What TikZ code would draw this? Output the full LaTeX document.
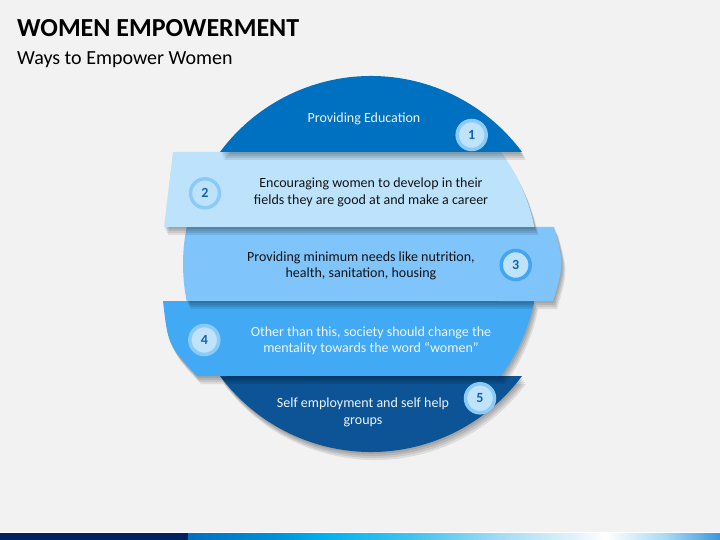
\documentclass[tikz,border=0pt]{standalone}
\usepackage{fontspec}
\setmainfont{Carlito}
\definecolor{bg}{RGB}{242,242,242}
\definecolor{bandA}{RGB}{0,112,192}
\definecolor{bandB}{RGB}{189,227,252}
\definecolor{bandC}{RGB}{127,196,250}
\definecolor{bandD}{RGB}{66,170,245}
\definecolor{bandE}{RGB}{12,84,150}
\definecolor{numblue}{RGB}{16,98,178}
\definecolor{ringlight}{RGB}{140,202,248}
\definecolor{ringdark}{RGB}{66,165,245}
\definecolor{badgein}{RGB}{192,227,252}
\definecolor{navy}{RGB}{0,32,96}
\definecolor{lighttext}{RGB}{238,244,250}
\definecolor{darktext}{RGB}{20,20,20}
\definecolor{barA}{RGB}{0,112,192}
\definecolor{barB}{RGB}{0,144,216}
\definecolor{barC}{RGB}{0,176,240}
\definecolor{barD}{RGB}{64,196,240}
\definecolor{barE}{RGB}{168,221,245}
\definecolor{barF}{RGB}{224,243,251}
\definecolor{barG}{RGB}{168,216,245}
\definecolor{barH}{RGB}{58,152,220}
\def\pathE{(522,376) arc[start angle=36.56,end angle=143.44,radius=188] -- cycle}
\def\pathD{(163,301) -- (534.3,301) arc[start angle=11.35,end angle=36.56,radius=188] -- (197,376) .. controls (168,345) .. (163,301) -- cycle}
\def\pathC{(554,227) -- (186.7,227) arc[start angle=191.35,end angle=168.65,radius=188] -- (553,301) .. controls (564,264) .. (554,227) -- cycle}
\def\pathB{(173,152) -- (501,152) arc[start angle=-36.56,end angle=-11.35,radius=188] -- (164,227) -- cycle}
\def\pathA{(220,152) arc[start angle=-143.44,end angle=-36.56,radius=188] -- cycle}
\begin{document}
\begin{tikzpicture}[x=1pt,y=-1pt,
 shadowcopy/.style={fill=black,fill opacity=0.09},
 badge/.style={circle,minimum size=29pt,inner sep=0pt,line width=3.5pt,font=\bfseries\fontsize{14}{14}\selectfont,text=numblue},
 bandtext/.style={align=center,font=\fontsize{14}{16.5}\selectfont},
]
\useasboundingbox (0,0) rectangle (720,540);
\fill[bg] (0,0) rectangle (720,540);

% bands (bottom to top), each with a soft drop shadow
\foreach \s in {1,2,3,4}{\path[shadowcopy,shift={(\s,2*\s)}] \pathE;}
\path[fill=bandE] \pathE;
\foreach \s in {1,2,3,4}{\path[shadowcopy,shift={(\s,2*\s)}] \pathD;}
\path[fill=bandD] \pathD;
\foreach \s in {1,2,3,4}{\path[shadowcopy,shift={(\s,2*\s)}] \pathC;}
\path[fill=bandC] \pathC;
\foreach \s in {1,2,3,4}{\path[shadowcopy,shift={(\s,2*\s)}] \pathB;}
\path[fill=bandB] \pathB;
\foreach \s in {1,2,3,4}{\path[shadowcopy,shift={(\s,2*\s)}] \pathA;}
\path[fill=bandA] \pathA;

% texts
\node[bandtext,text=lighttext] (t1) at (364,119) {Providing Education};
\node[bandtext,text=darktext] (t2) at (371,192.5) {Encouraging women to develop in their\\fields they are good at and make a career};
\node[bandtext,text=darktext] (t3) at (361,266) {Providing minimum needs like nutrition,\\health, sanitation, housing};
\node[bandtext,text=lighttext] (t4) at (371,341) {Other than this, society should change the\\mentality towards the word “women”};
\node[bandtext,text=lighttext] (t5) at (363,412.5) {Self employment and self help\\groups};

% badges
\node[badge,fill=badgein,draw=ringlight] (n1) at (471.7,135) {1};
\node[badge,fill=bandB,draw=ringlight] (n2) at (205,193.3) {2};
\node[badge,fill=badgein,draw=ringdark] (n3) at (515.7,265) {3};
\node[badge,fill=badgein,draw=ringlight] (n4) at (204.3,340) {4};
\node[badge,fill=badgein,draw=ringlight] (n5) at (480,398.3) {5};

% titles
\node[anchor=base west,inner sep=0pt,font=\bfseries\fontsize{26}{30}\selectfont] (title) at (17,37) {WOMEN EMPOWERMENT};
\node[anchor=base west,inner sep=0pt,font=\fontsize{20}{24}\selectfont] (subtitle) at (17,65) {Ways to Empower Women};

% bottom bar
\fill[white] (0,532) rectangle (720,533);
\fill[navy] (0,533) rectangle (188,540);
\shade[left color=barA,right color=barB] (188,533) rectangle (275.5,540);
\shade[left color=barB,right color=barC] (275,533) rectangle (321.5,540);
\shade[left color=barC,right color=barD] (321,533) rectangle (413.5,540);
\shade[left color=barD,right color=barE] (413,533) rectangle (505.5,540);
\shade[left color=barE,right color=barF] (505,533) rectangle (574.5,540);
\shade[left color=barF,right color=white] (574,533) rectangle (606.5,540);
\shade[left color=white,right color=barG] (606,533) rectangle (666.5,540);
\shade[left color=barG,right color=barH] (666,533) rectangle (720,540);
\end{tikzpicture}
\end{document}
